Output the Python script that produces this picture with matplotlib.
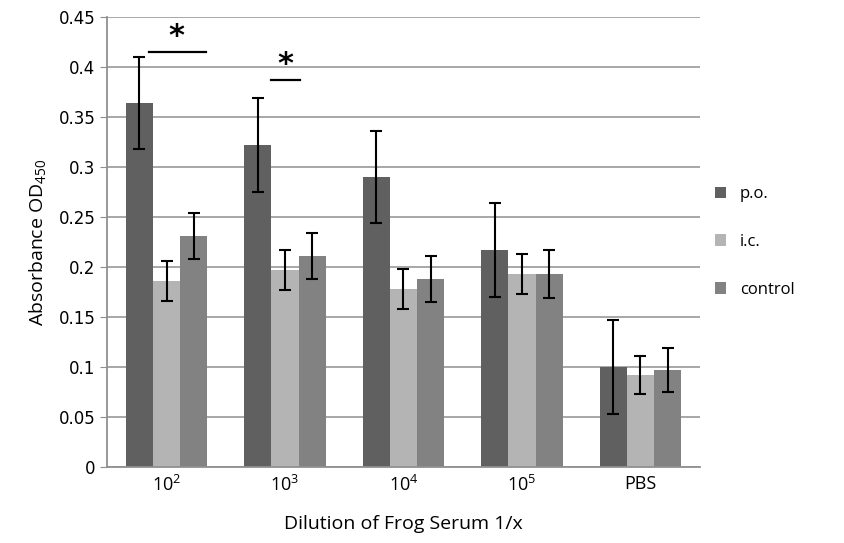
import numpy as np
import matplotlib.pyplot as plt

plt.rcParams['font.family'] = ['Open Sans', 'DejaVu Sans']
plt.rcParams['mathtext.fontset'] = 'custom'
plt.rcParams['mathtext.rm'] = 'Open Sans'
plt.rcParams['mathtext.it'] = 'Open Sans'

categories = ['$10^2$', '$10^3$', '$10^4$', '$10^5$', 'PBS']
po = [0.364, 0.322, 0.290, 0.217, 0.100]
po_err = [0.046, 0.047, 0.046, 0.047, 0.047]
ic = [0.186, 0.197, 0.178, 0.193, 0.092]
ic_err = [0.020, 0.020, 0.020, 0.020, 0.019]
control = [0.231, 0.211, 0.188, 0.193, 0.097]
control_err = [0.023, 0.023, 0.023, 0.024, 0.022]

colors = ['#606060', '#b4b4b4', '#828282']

fig = plt.figure(figsize=(8.45, 5.43), dpi=100)
ax = fig.add_axes([0.127, 0.140, 0.701, 0.829])

x = np.arange(len(categories))
w = 0.23
series = [('p.o.', po, po_err), ('i.c.', ic, ic_err), ('control', control, control_err)]
for i, (name, vals, errs) in enumerate(series):
    ax.bar(x + (i - 1) * w, vals, w, color=colors[i], label=name, zorder=2)
    ax.errorbar(x + (i - 1) * w, vals, yerr=errs, fmt='none', ecolor='black',
                elinewidth=1.5, capsize=4, capthick=1.5, zorder=3)

# significance markers
ax.plot([-0.146, 0.335], [0.415, 0.415], color='black', lw=1.6, zorder=3)
ax.text(0.08, 0.430, '*', ha='center', va='center', fontsize=22,
        fontweight='bold', family='DejaVu Sans')
ax.plot([1 - 0.117, 1 + 0.127], [0.387, 0.387], color='black', lw=1.6, zorder=3)
ax.text(1.0, 0.402, '*', ha='center', va='center', fontsize=22,
        fontweight='bold', family='DejaVu Sans')

ax.set_xlim(-0.5, len(categories) - 0.5)
ax.set_ylim(0, 0.45)
ax.set_yticks(np.arange(0, 0.451, 0.05))
ax.set_yticklabels(['0', '0.05', '0.1', '0.15', '0.2', '0.25', '0.3', '0.35', '0.4', '0.45'],
                   family='DejaVu Sans')
ax.set_xticks(x)
ax.set_xticklabels(categories)
ax.tick_params(axis='y', labelsize=12, length=5, color='#909090')
ax.tick_params(axis='x', labelsize=13, length=0, pad=6)
ax.yaxis.grid(True, color='#a0a0a0', lw=1.3, zorder=0)
ax.set_axisbelow(True)
for s in ['top', 'right']:
    ax.spines[s].set_visible(False)
for s in ['left', 'bottom']:
    ax.spines[s].set_color('#909090')
    ax.spines[s].set_linewidth(1.3)

ax.set_ylabel('Absorbance OD$_{450}$', fontsize=14, labelpad=8)
ax.set_xlabel('Dilution of Frog Serum 1/x', fontsize=14, labelpad=14)

ax.legend(loc='center left', bbox_to_anchor=(1.0, 0.5), frameon=False, fontsize=12,
          handlelength=0.7, handleheight=0.7, labelspacing=1.9)

fig.savefig('out.png', dpi=100)
